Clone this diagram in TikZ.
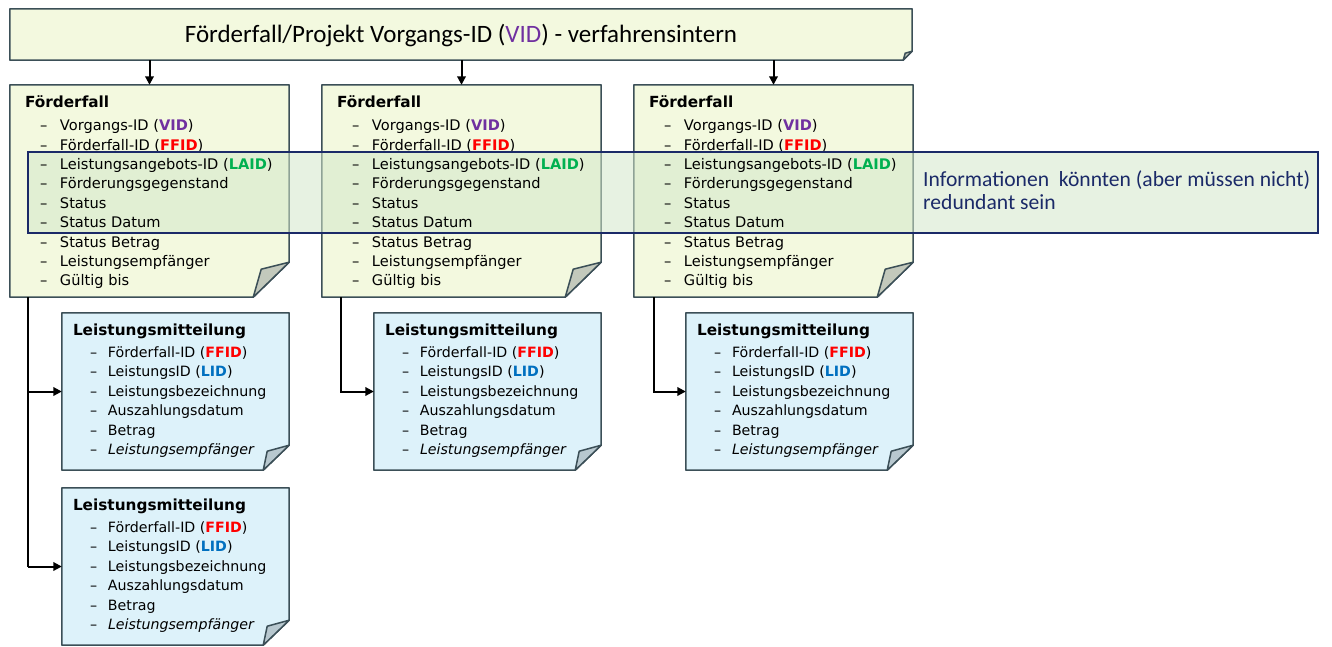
\documentclass[tikz,border=0pt]{standalone}
\usepackage{fontspec}
\setmainfont{DejaVu Sans}
\newfontfamily\calfont{Carlito}
\usetikzlibrary{arrows.meta}
\definecolor{bord}{HTML}{3B4F57}
\definecolor{ffill}{HTML}{F3F9DF}
\definecolor{lfill}{HTML}{DDF2FA}
\definecolor{fflap}{HTML}{C3C9BC}
\definecolor{lflap}{HTML}{B8C8CF}
\definecolor{vidc}{HTML}{7030A0}
\definecolor{ffidc}{HTML}{FF0000}
\definecolor{laidc}{HTML}{00B050}
\definecolor{lidc}{HTML}{0070C0}
\definecolor{navy}{HTML}{1B2A68}
\definecolor{ovfill}{HTML}{D3E7CA}
\newcommand\foldshape[7]{%
  \filldraw[fill=#6,draw=bord,line width=1.5pt,line join=round]
    (#1.north west) -- (#1.north east) -- ([yshift=#3]#1.south east)
    -- ([xshift=-#2]#1.south east) -- (#1.south west) -- cycle;
  \filldraw[fill=#7,draw=bord,line width=1.5pt,line join=round]
    ([yshift=#3]#1.south east) -- ([xshift=-#4,yshift=#5]#1.south east)
    -- ([xshift=-#2]#1.south east) -- cycle;}
\newcommand\ttl[1]{{\fontsize{15.3}{19.4}\selectfont\bfseries #1}}
\newcommand\itm[1]{\\\hspace*{15pt}\makebox[20pt][l]{–}#1}
\newcommand\ffitems{\ttl{Förderfall}\\[3.5pt]%
  \hspace*{15pt}\makebox[20pt][l]{–}Vorgangs-ID (\textbf{\textcolor{vidc}{VID}})%
  \itm{Förderfall-ID (\textbf{\textcolor{ffidc}{FFID}})}%
  \itm{Leistungsangebots-ID (\textbf{\textcolor{laidc}{LAID}})}%
  \itm{Förderungsgegenstand}\itm{Status}\itm{Status Datum}%
  \itm{Status Betrag}\itm{Leistungsempfänger}\itm{Gültig bis}}
\newcommand\lmi{\\\hspace*{17pt}\makebox[18pt][l]{–}}
\newcommand\lmitems{\ttl{Leistungsmitteilung}\\[3pt]%
  \hspace*{17pt}\makebox[18pt][l]{–}Förderfall-ID (\textbf{\textcolor{ffidc}{FFID}})%
  \lmi LeistungsID (\textbf{\textcolor{lidc}{LID}})%
  \lmi Leistungsbezeichnung%
  \lmi Auszahlungsdatum%
  \lmi Betrag%
  \lmi \textit{Leistungsempfänger}}
\begin{document}
\begin{tikzpicture}[x=1pt,y=-1pt,
  topshape/.style={minimum width=902pt,minimum height=51pt,inner sep=0pt},
  ffshape/.style={minimum width=279pt,minimum height=212pt,inner sep=0pt},
  lmshape/.style={minimum width=227pt,minimum height=157pt,inner sep=0pt},
  fftext/.style={anchor=north west,inner sep=0pt,align=left,font=\fontsize{14.6}{19.4}\selectfont},
  lmtext/.style={anchor=north west,inner sep=0pt,align=left,font=\fontsize{14.2}{19.4}\selectfont},
  arr/.style={line width=2pt,-{Triangle[length=8.5pt,width=8.5pt]}},
  link/.style={line width=2pt}]
\useasboundingbox (0,0) rectangle (1332,646);
% invisible frames
\node[topshape] (top) at (461,34.5) {};
\node[ffshape] (ff1) at (149.5,191) {};
\node[ffshape] (ff2) at (461.5,191) {};
\node[ffshape] (ff3) at (773.5,191) {};
\node[lmshape] (lm1) at (175.5,391.5) {};
\node[lmshape] (lm1b) at (175.5,566.5) {};
\node[lmshape] (lm2) at (487.5,391.5) {};
\node[lmshape] (lm3) at (799.5,391.5) {};
\node[minimum width=1290pt,minimum height=81pt,inner sep=0pt] (redund) at (673,192.5) {};
% shapes
\foldshape{top}{9pt}{9pt}{7pt}{7pt}{ffill}{fflap}
\foreach \n in {ff1,ff2,ff3}{\foldshape{\n}{36pt}{35pt}{28pt}{28pt}{ffill}{fflap}}
\foreach \n in {lm1,lm1b,lm2,lm3}{\foldshape{\n}{26pt}{25pt}{22pt}{19pt}{lfill}{lflap}}
% overlay fill (behind texts)
\fill[ovfill,opacity=0.55] (redund.north west) rectangle (redund.south east);
% texts
\node[inner sep=0pt,font=\calfont\fontsize{25}{28}\selectfont] (toptext) at ([yshift=-1pt]top.center)
  {Förderfall/Projekt Vorgangs-ID (\textcolor{vidc}{VID}) - verfahrensintern};
\foreach \n in {ff1,ff2,ff3}{\node[fftext] (\n t) at ([xshift=15pt,yshift=-11pt]\n.north west) {\ffitems};}
\foreach \n in {lm1,lm1b,lm2,lm3}{\node[lmtext] (\n t) at ([xshift=11pt,yshift=-10.5pt]\n.north west) {\lmitems};}
\node[anchor=west,inner sep=0pt,align=left,text=navy,font=\calfont\fontsize{21.6}{23.5}\selectfont] (note) at (923,190)
  {Informationen\ \ könnten (aber müssen nicht)\\redundant sein};
% overlay border
\draw[navy,line width=2.5pt] (redund.north west) rectangle (redund.south east);
% connectors
\foreach \n in {ff1,ff2,ff3}{\draw[arr] (\n.north |- top.south) -- (\n.north);}
\draw[link] ([xshift=18pt]ff1.south west) -- ([xshift=18pt]ff1.south west |- lm1b.west);
\draw[arr] ([xshift=18pt]ff1.south west |- lm1.west) -- (lm1.west);
\draw[arr] ([xshift=18pt]ff1.south west |- lm1b.west) -- (lm1b.west);
\draw[arr] ([xshift=19pt]ff2.south west) |- (lm2.west);
\draw[arr] ([xshift=20pt]ff3.south west) |- (lm3.west);
\end{tikzpicture}
\end{document}
